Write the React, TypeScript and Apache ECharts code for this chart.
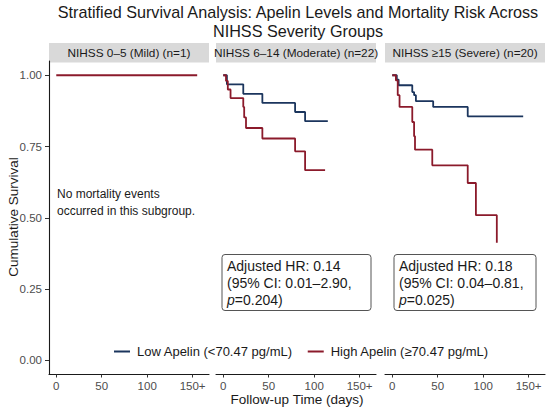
import React, { useEffect, useRef } from "react";
import * as echarts from "echarts";

// ---- data ----
const panelTitles = [
  "NIHSS 0–5 (Mild) (n=1)",
  "NIHSS 6–14 (Moderate) (n=22)",
  "NIHSS ≥15 (Severe) (n=20)",
];
const seriesNames = ["Low Apelin (<70.47 pg/mL)", "High Apelin (≥70.47 pg/mL)"];
const xTicks = [0, 50, 100, 150];
const yTicks = [0, 0.25, 0.5, 0.75, 1];

// Mild: only high-apelin patient, no events
const mildHighTimes = [0, 155];
const mildHighSurv = [1, 1];

// Moderate
const modLowTimes = [0, 4, 22, 43, 79, 90, 115];
const modLowSurv = [1, 0.968, 0.935, 0.903, 0.871, 0.839, 0.839];
const modHighTimes = [0, 3, 5, 8, 22, 23, 25, 43, 79, 90, 112];
const modHighSurv = [1, 0.98, 0.95, 0.92, 0.889, 0.852, 0.815, 0.778, 0.733, 0.667, 0.667];

// Severe
const sevLowTimes = [0, 5, 7, 22, 24, 26, 45, 83, 144];
const sevLowSurv = [1, 0.985, 0.965, 0.941, 0.93, 0.909, 0.889, 0.856, 0.856];
const sevHighTimes = [0, 4, 6, 8, 22, 24, 25, 44, 83, 92, 115];
const sevHighSurv = [1, 0.982, 0.93, 0.889, 0.836, 0.786, 0.739, 0.684, 0.622, 0.509, 0.412];

const hrLines = [
  ["Adjusted HR: 0.14", "(95% CI: 0.01–2.90,", "=0.204)"],
  ["Adjusted HR: 0.18", "(95% CI: 0.04–0.81,", "=0.025)"],
];

// ---- styling ----
const FONT = "'Liberation Sans', Arial, Helvetica, sans-serif";
const LOW_COLOR = "#1b355d";
const HIGH_COLOR = "#8b1a2b";
const gridLefts = [49, 216, 385];
const gridWidth = 160;
const gridTop = 61;
const gridHeight = 313.5;

const pairs = (t: number[], s: number[]) => t.map((v, i) => [v, s[i]]);

export default function App() {
  const ref = useRef<HTMLDivElement>(null);

  useEffect(() => {
    if (!ref.current) return;
    const chart = echarts.init(ref.current, null, { renderer: "svg" });

    const grids = gridLefts.map((l) => ({ left: l, top: gridTop, width: gridWidth, height: gridHeight }));

    const xAxes = gridLefts.map((_, i) => ({
      type: "value",
      gridIndex: i,
      min: -8,
      max: 168,
      splitLine: { show: false },
      axisLine: { show: true, onZero: false, lineStyle: { color: "#1a1a1a", width: 1.1 } },
      axisTick: { show: true, customValues: xTicks, length: 3, lineStyle: { color: "#333", width: 1 } },
      axisLabel: {
        customValues: xTicks,
        formatter: (v: number) => (v === 150 ? "150+" : String(v)),
        fontSize: 11.5,
        fontFamily: FONT,
        color: "#4d4d4d",
        margin: 5,
      },
    }));

    const yAxes = gridLefts.map((_, i) => ({
      type: "value",
      gridIndex: i,
      min: -0.05,
      max: 1.05,
      show: i === 0,
      splitLine: { show: false },
      axisLine: { show: i === 0, onZero: false, lineStyle: { color: "#1a1a1a", width: 1.1 } },
      axisTick: { show: i === 0, customValues: yTicks, length: 4, lineStyle: { color: "#333", width: 1 } },
      axisLabel: {
        show: i === 0,
        customValues: yTicks,
        formatter: (v: number) => v.toFixed(2),
        fontSize: 11.5,
        fontFamily: FONT,
        color: "#4d4d4d",
        margin: 7,
      },
    }));

    const mk = (name: string, color: string, idx: number, data: number[][]) => ({
      type: "line",
      name,
      xAxisIndex: idx,
      yAxisIndex: idx,
      step: "end",
      symbol: "none",
      data,
      lineStyle: { color, width: 1.8 },
      itemStyle: { color },
      z: color === HIGH_COLOR ? 3 : 2,
    });

    const series = [
      mk(seriesNames[1], HIGH_COLOR, 0, pairs(mildHighTimes, mildHighSurv)),
      mk(seriesNames[0], LOW_COLOR, 1, pairs(modLowTimes, modLowSurv)),
      mk(seriesNames[1], HIGH_COLOR, 1, pairs(modHighTimes, modHighSurv)),
      mk(seriesNames[0], LOW_COLOR, 2, pairs(sevLowTimes, sevLowSurv)),
      mk(seriesNames[1], HIGH_COLOR, 2, pairs(sevHighTimes, sevHighSurv)),
    ];

    const graphics: any[] = [];
    // title
    graphics.push({
      type: "text",
      x: 298,
      y: 12,
      style: {
        text: "Stratified Survival Analysis: Apelin Levels and Mortality Risk Across",
        fontSize: 16.2,
        fontFamily: FONT,
        fill: "#1a1a1a",
        align: "center",
        verticalAlign: "middle",
      },
    });
    graphics.push({
      type: "text",
      x: 298,
      y: 31,
      style: {
        text: "NIHSS Severity Groups",
        fontSize: 16.2,
        fontFamily: FONT,
        fill: "#1a1a1a",
        align: "center",
        verticalAlign: "middle",
      },
    });
    // y-axis title
    graphics.push({
      type: "text",
      x: 13,
      y: 217,
      rotation: Math.PI / 2,
      style: {
        text: "Cumulative Survival",
        fontSize: 13.5,
        fontFamily: FONT,
        fill: "#1a1a1a",
        align: "center",
        verticalAlign: "middle",
      },
    });
    // strips
    gridLefts.forEach((l, i) => {
      graphics.push({
        type: "rect",
        shape: { x: l, y: 43, width: gridWidth, height: 19.5 },
        style: { fill: "#d9d9d9" },
      });
      graphics.push({
        type: "text",
        x: l + gridWidth / 2,
        y: 53,
        style: {
          text: panelTitles[i],
          fontSize: 11.8,
          fontFamily: FONT,
          fill: "#1a1a1a",
          align: "center",
          verticalAlign: "middle",
        },
      });
    });
    // x-axis title
    graphics.push({
      type: "text",
      x: 297,
      y: 399,
      style: {
        text: "Follow-up Time (days)",
        fontSize: 13.5,
        fontFamily: FONT,
        fill: "#1a1a1a",
        align: "center",
        verticalAlign: "middle",
      },
    });
    // no events note
    graphics.push({
      type: "text",
      x: 57,
      y: 185,
      style: {
        text: "No mortality events\noccurred in this subgroup.",
        fontSize: 12,
        fontFamily: FONT,
        fill: "#1a1a1a",
        lineHeight: 17,
        align: "left",
        verticalAlign: "top",
      },
    });
    // HR boxes
    const boxes = [
      { x: 222, w: 149 },
      { x: 394, w: 142 },
    ];
    boxes.forEach((b, i) => {
      graphics.push({
        type: "rect",
        shape: { x: b.x, y: 254.5, width: b.w, height: 56, r: 3 },
        style: { fill: "#ffffff", stroke: "#555555", lineWidth: 1 },
        z: 10,
      });
      graphics.push({
        type: "text",
        x: b.x + 5,
        y: 257.5,
        z: 11,
        style: {
          text: `${hrLines[i][0]}\n${hrLines[i][1]}\n{it|p}${hrLines[i][2]}`,
          fontSize: 14,
          fontFamily: FONT,
          fill: "#1a1a1a",
          lineHeight: 17,
          align: "left",
          verticalAlign: "top",
          rich: {
            it: { fontStyle: "italic", fontSize: 14, fontFamily: FONT, fill: "#1a1a1a", lineHeight: 17 },
          },
        },
      });
    });

    chart.setOption({
      animation: false,
      backgroundColor: "#ffffff",
      grid: grids,
      xAxis: xAxes,
      yAxis: yAxes,
      series,
      legend: {
        data: [
          { name: seriesNames[0], icon: "rect", itemStyle: { color: LOW_COLOR } },
          { name: seriesNames[1], icon: "rect", itemStyle: { color: HIGH_COLOR } },
        ],
        left: 114,
        top: 345,
        padding: 0,
        itemWidth: 16,
        itemHeight: 2,
        itemGap: 15,
        selectedMode: false,
        textStyle: { fontSize: 13, fontFamily: FONT, color: "#1a1a1a", padding: [0, 0, 0, 2] },
      },
      graphic: graphics,
    });

    return () => chart.dispose();
  }, []);

  return (
    <div
      ref={ref}
      style={{ position: "fixed", left: 0, top: 0, width: 550, height: 411 }}
    />
  );
}
